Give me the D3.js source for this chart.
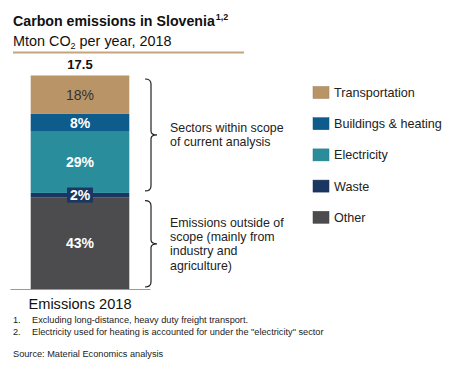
<!DOCTYPE html>
<html>
<head>
<meta charset="utf-8">
<script src="https://cdn.jsdelivr.net/npm/d3@7"></script>
<style>
  html, body { margin: 0; padding: 0; background: #fff; }
  svg { display: block; font-family: "Liberation Sans", Arial, Helvetica, sans-serif; }
</style>
</head>
<body>
<svg id="chart" width="457" height="375"></svg>
<script>
// ---- Data ----
const sectors = ["Transportation", "Buildings & heating", "Electricity", "Waste", "Other"];
const shares = [18, 8, 29, 2, 43];            // % of total
const totalMt = 17.5;                          // Mton CO2, 2018
const categoryLabel = "Emissions 2018";
const sectorColors = ["#B99467", "#0E5C8C", "#2A8D9B", "#1B3761", "#4C4C4E"];
const labelColors = ["#333333", "#ffffff", "#ffffff", "#ffffff", "#ffffff"];
const braceGroups = [
  { from: "Transportation", to: "Electricity", lines: ["Sectors within scope", "of current analysis"] },
  { from: "Other", to: "Other", lines: ["Emissions outside of", "scope (mainly from", "industry and", "agriculture)"] }
];
const footnotes = [
  ["1.", "Excluding long-distance, heavy duty freight transport."],
  ["2.", "Electricity used for heating is accounted for under the \"electricity\" sector"]
];
const sourceText = "Source: Material Economics analysis";

// ---- Layout ----
const svg = d3.select("#chart");

// Title
const title = svg.append("text").attr("x", 13).attr("y", 26)
  .attr("font-size", 14.2).attr("font-weight", "bold").attr("fill", "#111");
title.append("tspan").text("Carbon emissions in Slovenia");
title.append("tspan").attr("font-size", 9).attr("dx", 1).attr("dy", -6).text("1,2");

const sub = svg.append("text").attr("x", 13).attr("y", 46)
  .attr("font-size", 14.4).attr("fill", "#111");
sub.append("tspan").text("Mton CO");
sub.append("tspan").attr("font-size", 9).attr("dy", 3).text("2");
sub.append("tspan").attr("dy", -3).text(" per year, 2018");

svg.append("line").attr("x1", 13).attr("x2", 244).attr("y1", 52.5).attr("y2", 52.5)
  .attr("stroke", "#C4A57C").attr("stroke-width", 2);

// Scales
const x = d3.scaleBand().domain([categoryLabel]).range([10, 150]).paddingInner(0).paddingOuter(0.21);
const y = d3.scaleLinear().domain([0, 100]).range([289, 75.5]);

// Stack (bottom = Other)
const order = sectors.map((s, i) => i).reverse();
let acc = 0;
const segs = order.map(i => {
  const d = { name: sectors[i], share: shares[i], color: sectorColors[i], lc: labelColors[i], y0: acc, y1: acc + shares[i] };
  acc += shares[i];
  return d;
});
const segByName = Object.fromEntries(segs.map(d => [d.name, d]));

const bx = x(categoryLabel), bw = x.bandwidth();

svg.append("g").selectAll("rect").data(segs).join("rect")
  .attr("x", bx).attr("width", bw)
  .attr("y", d => y(d.y1)).attr("height", d => y(d.y0) - y(d.y1))
  .attr("fill", d => d.color);

// Labels
const lg = svg.append("g");
segs.forEach(d => {
  const cy = (y(d.y0) + y(d.y1)) / 2;
  if (d.name === "Waste") {
    lg.append("rect").attr("x", bx + bw / 2 - 13).attr("y", cy - 7.5).attr("width", 26).attr("height", 15)
      .attr("fill", d.color);
  }
  lg.append("text").attr("x", bx + bw / 2).attr("y", cy).attr("dy", "0.36em")
    .attr("text-anchor", "middle").attr("font-size", 14)
    .attr("font-weight", d.lc === "#ffffff" ? "bold" : "normal")
    .attr("fill", d.lc).text(d.share + "%");
});

// Total
svg.append("text").attr("x", bx + bw / 2).attr("y", y(100) - 7).attr("text-anchor", "middle")
  .attr("font-size", 13).attr("font-weight", "bold").attr("fill", "#111").text(totalMt.toFixed(1));

// Axis baseline
const axis = d3.axisBottom(x).tickSize(0).tickPadding(10);
const ag = svg.append("g").attr("transform", `translate(0,${y(0)})`).call(axis);
ag.select(".domain").attr("stroke", "#9a9a9a").attr("stroke-width", 1);
ag.selectAll("text").attr("font-size", 14.6).attr("fill", "#111")
  .attr("font-family", "'Liberation Sans', Arial, sans-serif");

// Braces
const xb = 151;
braceGroups.forEach(g => {
  const top = y(segByName[g.from].y1) + 3.5;
  const bot = y(segByName[g.to].y0) - 2;
  const mid = (top + bot) / 2;
  const p = `M${xb - 6},${top} Q${xb},${top} ${xb},${top + 5} L${xb},${mid - 4} Q${xb},${mid} ${xb + 6},${mid}` +
            ` Q${xb},${mid} ${xb},${mid + 4} L${xb},${bot - 5} Q${xb},${bot} ${xb - 6},${bot}`;
  svg.append("path").attr("d", p).attr("fill", "none").attr("stroke", "#222").attr("stroke-width", 1.2);
  const n = g.lines.length, lh = 14.3;
  const t = svg.append("text").attr("x", 170).attr("font-size", 12.4).attr("fill", "#222");
  g.lines.forEach((l, i) => {
    t.append("tspan").attr("x", 170).attr("y", mid + (i - (n - 1) / 2) * lh).attr("dy", "0.35em").text(l);
  });
});

// Legend
const leg = svg.append("g").attr("transform", "translate(313,86.5)");
sectors.forEach((s, i) => {
  const r = leg.append("g").attr("transform", `translate(0,${i * 31.2})`);
  r.append("rect").attr("width", 16).attr("height", 12).attr("fill", sectorColors[i])
    .attr("stroke", d3.color(sectorColors[i]).darker(0.4)).attr("stroke-width", 0.5);
  r.append("text").attr("x", 21).attr("y", 6).attr("dy", "0.35em").attr("font-size", 12.6)
    .attr("fill", "#222").text(s);
});

// Footnotes
footnotes.forEach((f, i) => {
  svg.append("text").attr("x", 13).attr("y", 323 + i * 12).attr("font-size", 9.2).attr("fill", "#222").text(f[0]);
  svg.append("text").attr("x", 32).attr("y", 323 + i * 12).attr("font-size", 9.2).attr("fill", "#222").text(f[1]);
});
svg.append("text").attr("x", 13).attr("y", 357).attr("font-size", 9.2).attr("fill", "#222").text(sourceText);
</script>
</body>
</html>
